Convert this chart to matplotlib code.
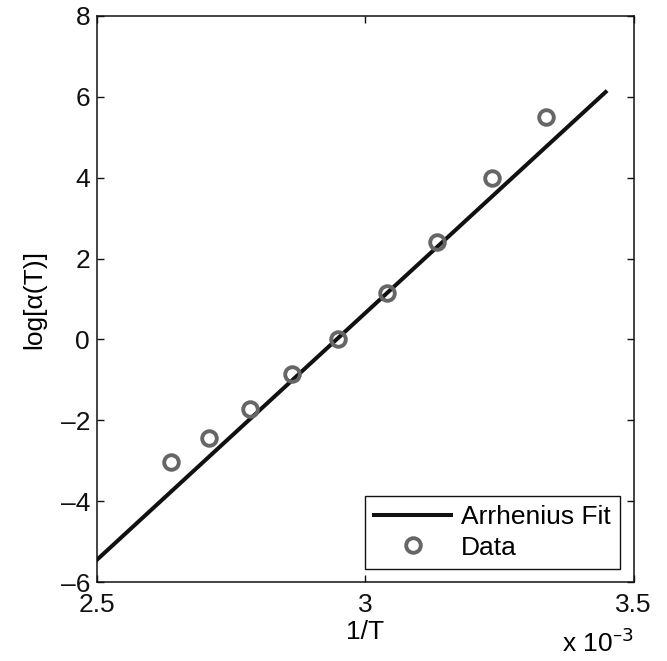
import matplotlib.pyplot as plt
from matplotlib.ticker import FuncFormatter

plt.rcParams['font.family'] = ['Liberation Sans', 'DejaVu Sans']

# Data
inv_T = [2.638e-3, 2.7095e-3, 2.785e-3, 2.863e-3, 2.950e-3, 3.0405e-3, 3.134e-3, 3.236e-3, 3.336e-3]
log_alpha = [-3.04, -2.45, -1.71, -0.86, 0.0, 1.14, 2.40, 4.00, 5.49]

# Arrhenius fit line endpoints
fit_x = [2.5e-3, 3.448e-3]
fit_y = [-5.45, 6.12]

xticks = [2.5e-3, 3.0e-3, 3.5e-3]
yticks = [-6, -4, -2, 0, 2, 4, 6, 8]

fs = 19

fig = plt.figure(figsize=(6.67, 6.61), dpi=100)
ax = fig.add_axes([0.1454, 0.1195, 0.8044, 0.8563])

ax.plot(fit_x, fit_y, color='#111111', lw=2.9, label='Arrhenius Fit', zorder=2)
ax.plot(inv_T, log_alpha, 'o', mfc='none', mec='#666666', mew=2.8, ms=10.5,
        label='Data', zorder=3)

ax.set_xlim(2.5e-3, 3.5e-3)
ax.set_ylim(-6, 8)
ax.set_xticks(xticks)
ax.set_yticks(yticks)
ax.xaxis.set_major_formatter(FuncFormatter(lambda v, p: f"{v * 1e3:g}"))
ax.yaxis.set_major_formatter(FuncFormatter(lambda v, p: f"{v:g}".replace('-', '\u2013')))
ax.tick_params(direction='in', length=5, width=1, top=True, right=True,
               labelsize=fs, pad=5, colors='#111111')
ax.tick_params(axis='x', pad=8)
for s in ax.spines.values():
    s.set_linewidth(1.1)
    s.set_color('#111111')

ax.set_xlabel('1/T', fontsize=fs, labelpad=2)
ax.set_ylabel('log[\u03b1(T)]', fontsize=fs, labelpad=10)
fig.text(0.9498, 0.006, 'x 10$^{\u20133}$', ha='right', va='bottom', fontsize=fs)

leg = ax.legend(loc='lower right', fontsize=fs, fancybox=False, edgecolor='#111111',
                framealpha=1, handlelength=2.9, numpoints=1, borderaxespad=0.5,
                labelspacing=0.25, handletextpad=0.4, borderpad=0.35)
leg.get_frame().set_linewidth(1.0)

fig.savefig('out.png', dpi=100)
